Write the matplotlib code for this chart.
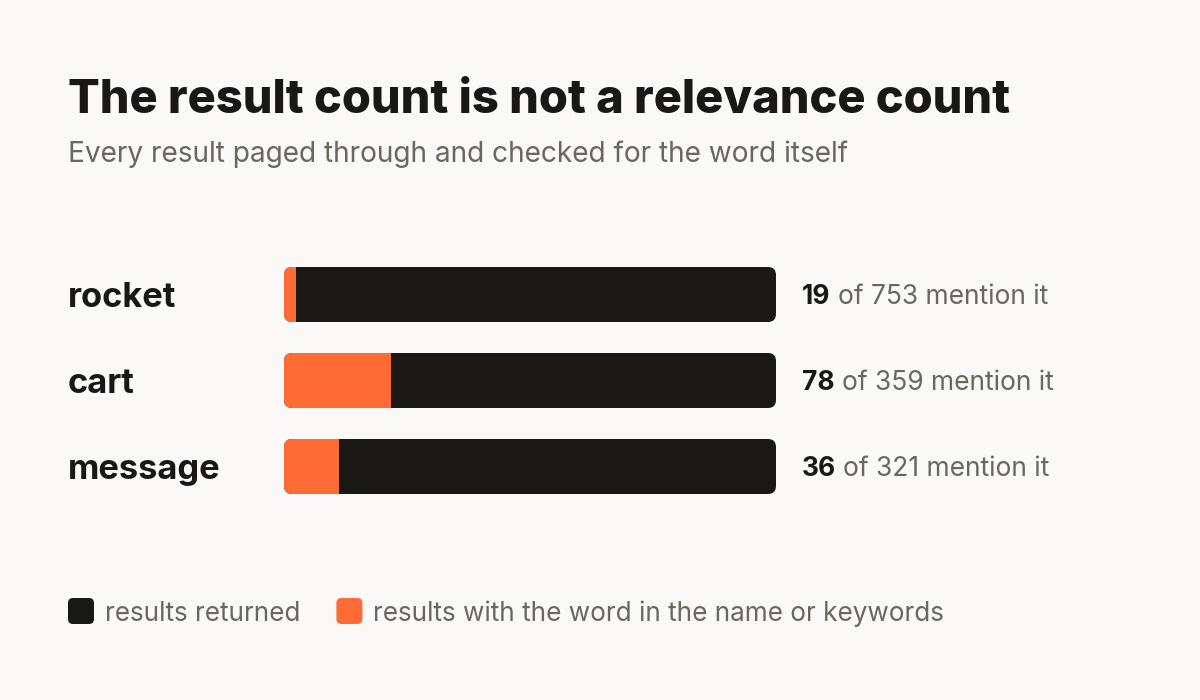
import matplotlib
matplotlib.use("Agg")
import matplotlib.pyplot as plt
from matplotlib.patches import FancyBboxPatch, Rectangle

categories = ["rocket", "cart", "message"]
returned = [753, 359, 321]
mentioning = [19, 78, 36]
legend_labels = ["results returned", "results with the word in the name or keywords"]
title = "The result count is not a relevance count"
subtitle = "Every result paged through and checked for the word itself"

BG = "#faf9f7"
DARK = "#1a1814"
ORANGE = "#ff6b35"
GRAY = "#6b665f"
FONT = "Inter"

W, H = 1200, 700
fig = plt.figure(figsize=(W / 100, H / 100), dpi=100, facecolor=BG)

def fx(px):
    return px / W

def fy(py):
    return 1 - py / H

fig.canvas.draw()
renderer = fig.canvas.get_renderer()

# title / subtitle
t = fig.text(fx(68), fy(113), title, fontsize=34.5, fontweight=800, color=DARK,
             family=FONT, va="baseline", ha="left")
bb = t.get_window_extent(renderer)
t.set_fontsize(34.5 * 944 / bb.width)
s = fig.text(fx(68), fy(162), subtitle, fontsize=19.5, color=GRAY,
             family=FONT, va="baseline", ha="left")
bb = s.get_window_extent(renderer)
s.set_fontsize(19.5 * 784 / bb.width)

# bar axes
row_px = 86
n = len(categories)
top_px = 294.5 - row_px / 2
ax_left, ax_right = 284, 776
ax = fig.add_axes([fx(ax_left), fy(top_px + row_px * n), (ax_right - ax_left) / W, row_px * n / H])
ax.set_xlim(0, 1)
ax.set_ylim(n - 0.5, -0.5)
ax.axis("off")
ax.patch.set_alpha(0)

bar_h = 55 / row_px
r_px = 8
rx = r_px / (ax_right - ax_left)
aspect = (r_px / row_px) / rx

for i, (cat, tot, m) in enumerate(zip(categories, returned, mentioning)):
    frac = m / tot
    back = FancyBboxPatch((0, i - bar_h / 2), 1, bar_h,
                          boxstyle=f"round,pad=0,rounding_size={rx}",
                          mutation_aspect=aspect, facecolor=DARK, edgecolor="none")
    ax.add_patch(back)
    seg = Rectangle((0, i - bar_h / 2), frac, bar_h, facecolor=ORANGE, edgecolor="none")
    ax.add_patch(seg)
    seg.set_clip_path(back)

for i, (cat, tot, m) in enumerate(zip(categories, returned, mentioning)):
    yc = 294.5 + i * row_px
    fig.text(fx(68), fy(yc), cat, fontsize=24.8, fontweight="bold", color=DARK,
             family=FONT, va="center_baseline", ha="left")
    t1 = fig.text(fx(802), fy(yc), str(m), fontsize=19, fontweight="bold", color=DARK,
                  family=FONT, va="center_baseline", ha="left")
    bb = t1.get_window_extent(renderer)
    fig.text(fx(bb.x1 + 7), fy(yc), f"of {tot} mention it", fontsize=19, color=GRAY,
             family=FONT, va="center_baseline", ha="left")

# legend
x = 68
ly = 611
colors = [DARK, ORANGE]
for lab, c in zip(legend_labels, colors):
    sq = FancyBboxPatch((fx(x), fy(ly + 13)), fx(26), 26 / H,
                        boxstyle=f"round,pad=0,rounding_size={fx(5)}",
                        mutation_aspect=(5 / H) / fx(5),
                        transform=fig.transFigure, facecolor=c, edgecolor="none")
    fig.patches.append(sq)
    t = fig.text(fx(x + 37), fy(ly), lab, fontsize=18.8, color=GRAY, family=FONT,
                 va="center_baseline", ha="left")
    bb = t.get_window_extent(renderer)
    x = bb.x1 + 36

fig.savefig("out.png", dpi=100, facecolor=BG)
